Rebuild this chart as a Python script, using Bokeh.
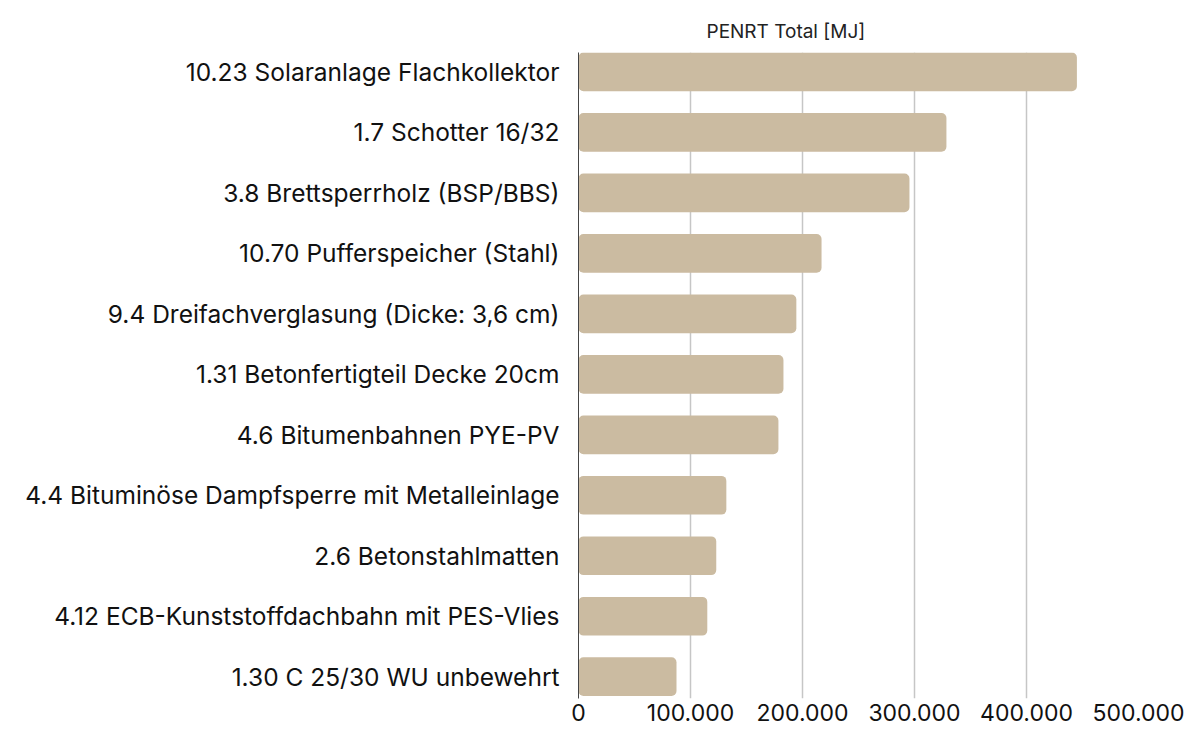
from bokeh.plotting import figure
from bokeh.models import Range1d, FixedTicker
from bokeh.embed import file_html
from bokeh.resources import INLINE

categories = [
    "10.23 Solaranlage Flachkollektor",
    "1.7 Schotter 16/32",
    "3.8 Brettsperrholz (BSP/BBS)",
    "10.70 Pufferspeicher (Stahl)",
    "9.4 Dreifachverglasung (Dicke: 3,6 cm)",
    "1.31 Betonfertigteil Decke 20cm",
    "4.6 Bitumenbahnen PYE-PV",
    "4.4 Bituminöse Dampfsperre mit Metalleinlage",
    "2.6 Betonstahlmatten",
    "4.12 ECB-Kunststoffdachbahn mit PES-Vlies",
    "1.30 C 25/30 WU unbewehrt",
]
values = [445000, 328500, 295500, 217000, 194500, 183000, 178500, 132000, 123000, 115000, 87500]
tick_values = [0, 100000, 200000, 300000, 400000, 500000]
tick_labels = ["0", "100.000", "200.000", "300.000", "400.000", "500.000"]
title_text = "PENRT Total [MJ]"

FONT = "Inter"
BAR = "#cbbba1"

n = len(categories)
ypos = [n - 1 - i for i in range(n)]  # first category on top

p = figure(
    width=1190, height=731,
    x_range=Range1d(0, 500000),
    y_range=Range1d(-0.36, n - 1 + 0.32),
    output_backend="svg", toolbar_location=None,
    min_border_left=578, min_border_right=52, min_border_top=52, min_border_bottom=33,
    title=title_text,
)
p.title.align = "left"
p.title.offset = 128
p.title.text_font = FONT
p.title.text_font_size = "19px"
p.title.text_font_style = "normal"
p.title.text_color = "#222222"
p.title.standoff = 19

p.hbar(y=ypos, right=values, left=0, height=0.64, color=BAR, line_color=None,
       border_radius=5)

p.outline_line_color = None
p.ygrid.grid_line_color = None
p.xgrid.grid_line_color = "#c6c6c6"
p.xgrid.grid_line_width = 1.5
p.xgrid.ticker = FixedTicker(ticks=tick_values)
p.xgrid.level = "underlay"

p.xaxis.ticker = FixedTicker(ticks=tick_values)
p.xaxis.major_label_overrides = {v: l for v, l in zip(tick_values, tick_labels)}
p.xaxis.axis_line_color = None
p.xaxis.major_tick_line_color = None
p.xaxis.minor_tick_line_color = None
p.xaxis.major_tick_in = 0
p.xaxis.major_tick_out = 0
p.xaxis.minor_tick_in = 0
p.xaxis.minor_tick_out = 0
p.xaxis.major_label_standoff = 5
p.xaxis.major_label_text_font = FONT
p.xaxis.major_label_text_font_size = "23px"
p.xaxis.major_label_text_color = "#111111"

p.yaxis.ticker = FixedTicker(ticks=ypos)
p.yaxis.major_label_overrides = {y: c for y, c in zip(ypos, categories)}
p.yaxis.axis_line_color = "#444444"
p.yaxis.axis_line_width = 1
p.yaxis.major_tick_line_color = None
p.yaxis.minor_tick_line_color = None
p.yaxis.major_tick_in = 0
p.yaxis.major_tick_out = 0
p.yaxis.minor_tick_in = 0
p.yaxis.minor_tick_out = 0
p.yaxis.major_label_standoff = 19
p.yaxis.major_label_text_font = FONT
p.yaxis.major_label_text_font_size = "24.5px"
p.yaxis.major_label_text_color = "#111111"

open("out.html", "w").write(file_html(p, INLINE))
